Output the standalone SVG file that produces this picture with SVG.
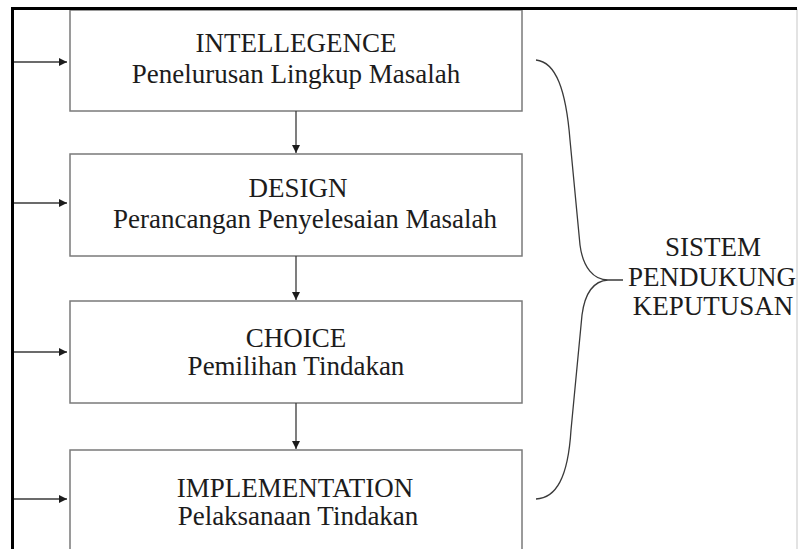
<svg xmlns="http://www.w3.org/2000/svg" width="798" height="549" viewBox="0 0 798 549">
<style>
.box{fill:#fff;stroke:#7a7a7a;stroke-width:1.5}
.t{font-family:"Liberation Serif","Times New Roman",serif;font-size:27px;fill:#1c1c1c;text-anchor:middle}
.c{stroke:#3a3a3a;stroke-width:1.3;fill:none}
</style>
<defs>
<marker id="ah" viewBox="0 0 10 10" refX="10" refY="5" markerWidth="8" markerHeight="8" markerUnits="userSpaceOnUse" orient="auto">
<path d="M0,0 L10,5 L0,10 z" fill="#1c1c1c"/>
</marker>
</defs>
<rect x="0" y="0" width="798" height="549" fill="#fff"/>
<line x1="797" y1="9" x2="797" y2="549" stroke="#d0d0d0" stroke-width="1.2"/>
<g id="node-intellegence">
<rect class="box" x="70" y="10" width="452" height="101"/>
<text class="t" x="296" y="52">INTELLEGENCE</text>
<text class="t" x="296" y="83">Penelurusan Lingkup Masalah</text>
</g>
<g id="node-design">
<rect class="box" x="70" y="154" width="452" height="102"/>
<text class="t" x="298" y="197">DESIGN</text>
<text class="t" x="305" y="228">Perancangan Penyelesaian Masalah</text>
</g>
<g id="node-choice">
<rect class="box" x="70" y="301" width="452" height="102"/>
<text class="t" x="296" y="347">CHOICE</text>
<text class="t" x="296" y="375">Pemilihan Tindakan</text>
</g>
<g id="node-implementation">
<rect class="box" x="70" y="450" width="452" height="110"/>
<text class="t" x="295" y="497">IMPLEMENTATION</text>
<text class="t" x="298" y="525">Pelaksanaan Tindakan</text>
</g>
<g id="connectors">
<line class="c" x1="296" y1="111" x2="296" y2="153" marker-end="url(#ah)"/>
<line class="c" x1="296" y1="256" x2="296" y2="300" marker-end="url(#ah)"/>
<line class="c" x1="296" y1="403" x2="296" y2="449" marker-end="url(#ah)"/>
<line class="c" x1="13" y1="62" x2="67" y2="62" marker-end="url(#ah)"/>
<line class="c" x1="13" y1="203" x2="67" y2="203" marker-end="url(#ah)"/>
<line class="c" x1="13" y1="352" x2="67" y2="352" marker-end="url(#ah)"/>
<line class="c" x1="13" y1="499" x2="67" y2="499" marker-end="url(#ah)"/>
</g>
<g id="node-brace">
<path d="M536,60 C556,62 566,90 570,140 L580,245 C583,268 594,280 608,280 L623,280 M608,280 C594,281 585,292 582,315 L571,430 C568,478 556,498 536,499" fill="none" stroke="#3a3a3a" stroke-width="1.3"/>
</g>
<g id="node-sistem">
<text class="t" x="713" y="256">SISTEM</text>
<text class="t" x="712" y="286">PENDUKUNG</text>
<text class="t" x="713" y="315">KEPUTUSAN</text>
</g>
<line x1="11" y1="8.5" x2="797" y2="8.5" stroke="#000" stroke-width="3"/>
<line x1="12.5" y1="7" x2="12.5" y2="549" stroke="#000" stroke-width="3"/>
</svg>
